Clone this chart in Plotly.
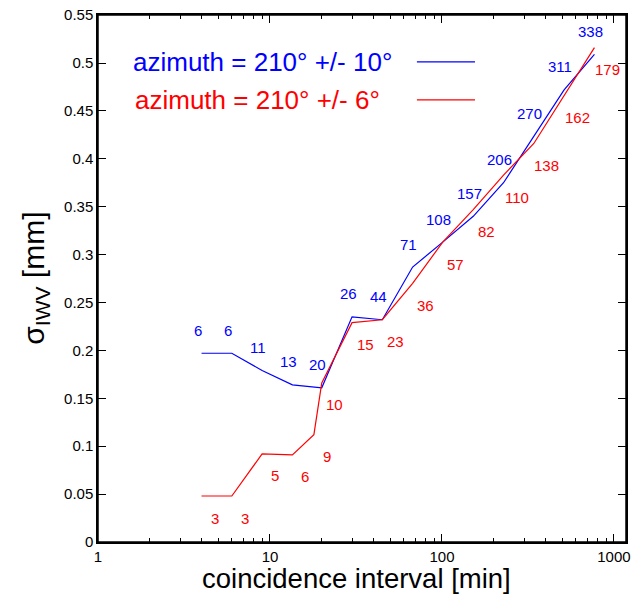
import math
import plotly.graph_objects as go

# ---- data ----
blue_x = [4, 6, 9, 13.5, 20, 30, 45, 67.5, 101, 152, 228, 342, 513, 770]
blue_y = [0.197, 0.197, 0.179, 0.164, 0.161, 0.235, 0.232, 0.287, 0.313, 0.340,
          0.375, 0.423, 0.472, 0.509]
blue_n = [6, 6, 11, 13, 20, 26, 44, 71, 108, 157, 206, 270, 311, 338]

red_x = [4, 6, 9, 13.5, 18, 20, 30, 45, 67.5, 101, 152, 228, 342, 513, 770]
red_y = [0.048, 0.048, 0.092, 0.091, 0.112, 0.166, 0.229, 0.232, 0.270, 0.313,
         0.347, 0.383, 0.416, 0.466, 0.516]
red_n = [3, 3, 5, 6, 9, 10, 15, 23, 36, 57, 82, 110, 138, 162, 179]

x_tickvals = [1, 10, 100, 1000]
x_ticktext = ["1", "10", "100", "1000"]
y_tickvals = [0, 0.05, 0.1, 0.15, 0.2, 0.25, 0.3, 0.35, 0.4, 0.45, 0.5, 0.55]
y_ticktext = ["0", "0.05", "0.1", "0.15", "0.2", "0.25", "0.3", "0.35", "0.4",
              "0.45", "0.5", "0.55"]

blue_label = "azimuth = 210° +/- 10°"
red_label = "azimuth = 210° +/- 6°"

BLUE = "#0000ff"
RED = "#ff0000"
FONT = "Liberation Sans, Arial, sans-serif"

fig = go.Figure()
fig.add_trace(go.Scatter(x=blue_x, y=blue_y, mode="lines",
                         line=dict(color=BLUE, width=1.2), showlegend=False))
fig.add_trace(go.Scatter(x=red_x, y=red_y, mode="lines",
                         line=dict(color=RED, width=1.2), showlegend=False))

annotations = []
for x, y, n in zip(blue_x, blue_y, blue_n):
    annotations.append(dict(x=math.log10(x), y=y, text=str(n),
                            showarrow=False, xshift=-4, yshift=23,
                            font=dict(color=BLUE, size=15, family=FONT)))
for x, y, n in zip(red_x, red_y, red_n):
    annotations.append(dict(x=math.log10(x), y=y, text=str(n),
                            showarrow=False, xshift=13, yshift=-22,
                            font=dict(color=RED, size=15, family=FONT)))

# legend (gnuplot style: text then line sample)
annotations.append(dict(xref="paper", yref="paper", x=0.0625, y=0.911,
                        xanchor="left", yanchor="middle", text=blue_label,
                        showarrow=False, font=dict(color=BLUE, size=26, family=FONT)))
annotations.append(dict(xref="paper", yref="paper", x=0.0663, y=0.839,
                        xanchor="left", yanchor="middle", text=red_label,
                        showarrow=False, font=dict(color=RED, size=26, family=FONT)))
# axis titles
annotations.append(dict(xref="paper", yref="paper", x=0.49, y=0, yshift=-36,
                        xanchor="center", yanchor="middle",
                        text="coincidence interval [min]", showarrow=False,
                        font=dict(color="black", size=27.5, family=FONT)))
annotations.append(dict(xref="paper", yref="paper", x=-0.119, y=0.5,
                        xanchor="center", yanchor="middle", textangle=-90,
                        text="σ<sub>IWV</sub> [mm]", showarrow=False,
                        font=dict(color="black", size=30, family=FONT)))

shapes = [
    dict(type="line", xref="paper", yref="paper", x0=0.604, x1=0.714,
         y0=0.911, y1=0.911, line=dict(color=BLUE, width=1.2)),
    dict(type="line", xref="paper", yref="paper", x0=0.604, x1=0.714,
         y0=0.839, y1=0.839, line=dict(color=RED, width=1.2)),
    dict(type="rect", xref="paper", yref="paper", x0=0, x1=1, y0=0, y1=1,
         line=dict(color="black", width=1.5), layer="above"),
]

fig.update_layout(
    width=633, height=604,
    margin=dict(l=98, r=7, t=15, b=62, autoexpand=False),
    paper_bgcolor="white", plot_bgcolor="white",
    font=dict(family=FONT, color="black", size=15),
    annotations=annotations, shapes=shapes,
    xaxis=dict(type="log", range=[0, 3.07], automargin=False,
               tickvals=x_tickvals, ticktext=x_ticktext,
               ticks="inside", ticklen=8, tickwidth=1, tickcolor="black",
               minor=dict(ticks="inside", ticklen=4, tickwidth=1, tickcolor="black",
                          tickvals=[m * 10 ** e for e in range(4) for m in range(2, 10)],
                          showgrid=False),
               showline=True, linecolor="black", linewidth=1.5, mirror="allticks",
               showgrid=False, zeroline=False,
               tickfont=dict(size=15, family=FONT, color="black")),
    yaxis=dict(range=[0, 0.5501], automargin=False,
               tickvals=y_tickvals, ticktext=y_ticktext,
               ticks="inside", ticklen=8, tickwidth=1, tickcolor="black",
               showline=True, linecolor="black", linewidth=1.5, mirror="allticks",
               showgrid=False, zeroline=False,
               tickfont=dict(size=15, family=FONT, color="black")),
)

fig.write_html("out.html",
               config={"displayModeBar": False},
               post_script="document.body.style.margin='0';"
                           "document.body.style.overflow='hidden';")
